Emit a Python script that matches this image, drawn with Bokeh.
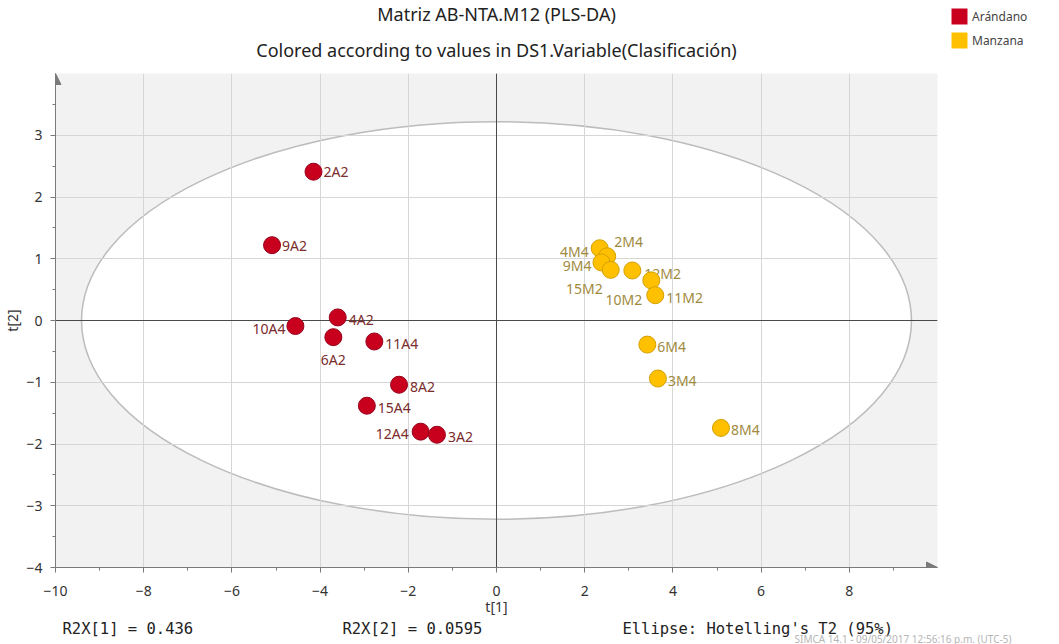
import numpy as np
from bokeh.plotting import figure
from bokeh.layouts import row
from bokeh.models import (ColumnDataSource, Range1d, FixedTicker, Span, Arrow, NormalHead,
                          Title, Legend, LegendItem)
from bokeh.embed import file_html
from bokeh.resources import INLINE
from bokeh.core.properties import value

# ---------------- data ----------------
title_1 = "Matriz AB-NTA.M12 (PLS-DA)"
title_2 = "Colored according to values in DS1.Variable(Clasificación)"
classes = ["Arándano", "Manzana"]

a_names = ["2A2", "9A2", "10A4", "4A2", "6A2", "11A4", "8A2", "15A4", "12A4", "3A2"]
a_t1 = [-4.15, -5.09, -4.56, -3.60, -3.70, -2.77, -2.21, -2.94, -1.72, -1.35]
a_t2 = [2.41, 1.22, -0.09, 0.05, -0.27, -0.34, -1.04, -1.38, -1.80, -1.85]

m_names = ["4M4", "2M4", "9M4", "15M2", "12M2", "10M2", "11M2", "6M4", "3M4", "8M4"]
m_t1 = [2.34, 2.51, 2.38, 2.59, 3.08, 3.51, 3.60, 3.42, 3.66, 5.09]
m_t2 = [1.17, 1.04, 0.94, 0.82, 0.81, 0.65, 0.41, -0.39, -0.94, -1.74]

x_ticks = [-10, -8, -6, -4, -2, 0, 2, 4, 6, 8]
x_minor = [-9, -7, -5, -3, -1, 1, 3, 5, 7, 9]
y_ticks = [-4, -3, -2, -1, 0, 1, 2, 3]
y_minor = [-3.5, -2.5, -1.5, -0.5, 0.5, 1.5, 2.5, 3.5]

r2x = [0.436, 0.0595]
t2_semi_axes = [9.41, 3.22]   # Hotelling's T2 (95%) ellipse
ellipse_note = "Ellipse: Hotelling's T2 (95%)"
watermark = "SIMCA 14.1 - 09/05/2017 12:56:16 p.m. (UTC-5)"

# ---------------- label placement (screen px) ----------------
a_dx = [10, 10, -10, 11, 0, 11, 11, 11, -12, 11]
a_dy = [0, 0, 2, 2, 22, 2, 2, 2, 2, 2]
a_al = ["left", "left", "right", "left", "center", "left", "left", "left", "right", "left"]
m_dx = [-11, 7, -10, -8, 12, -9, 11, 10, 10, 10]
m_dy = [3, -15, 3, 19, 3, 19, 2, 2, 2, 2]
m_al = ["right", "left", "right", "right", "left", "right", "left", "left", "left", "left"]

RED, RED_LINE, RED_TXT = "#C8001E", "#96001A", "#7A2C2C"
YEL, YEL_LINE, YEL_TXT = "#FFC000", "#D2A000", "#A08A40"
FONT = "Noto Sans"
NB = "\u00a0"

src_a = ColumnDataSource(dict(x=a_t1, y=a_t2, name=a_names, dx=a_dx, dy=a_dy, al=a_al))
src_m = ColumnDataSource(dict(x=m_t1, y=m_t2, name=m_names, dx=m_dx, dy=m_dy, al=m_al))

p = figure(width=1059, height=644, x_range=Range1d(-10, 10), y_range=Range1d(-4, 4),
           output_backend="svg", toolbar_location=None, title=None,
           min_border_left=51, min_border_right=122, min_border_top=70, min_border_bottom=77,
           background_fill_color="#f2f2f2", border_fill_color="white", outline_line_color=None)

# grid
p.xgrid.ticker = FixedTicker(ticks=x_ticks)
p.ygrid.ticker = FixedTicker(ticks=y_ticks)
for g in (p.xgrid, p.ygrid):
    g.grid_line_color = "#d6d6d6"
    g.grid_line_width = 1

# axes
p.xaxis.ticker = FixedTicker(ticks=x_ticks, minor_ticks=x_minor)
p.yaxis.ticker = FixedTicker(ticks=y_ticks, minor_ticks=y_minor)
for ax in (p.xaxis, p.yaxis):
    ax.axis_line_color = "#7a7a7a"
    ax.major_tick_line_color = "#7a7a7a"
    ax.minor_tick_line_color = "#7a7a7a"
    ax.major_tick_out = 5
    ax.major_tick_in = 0
    ax.minor_tick_out = 3
    ax.minor_tick_in = 0
    ax.major_label_text_font = FONT
    ax.major_label_text_font_size = "14px"
    ax.major_label_text_color = "#333333"
    ax.axis_label_text_font = FONT
    ax.axis_label_text_font_size = "14px"
    ax.axis_label_text_font_style = "normal"
    ax.axis_label_text_color = "#333333"
p.xaxis.axis_label_standoff = -2
p.yaxis.axis_label_standoff = 1
p.xaxis.major_label_standoff = 13
p.yaxis.major_label_standoff = 8
p.xaxis.axis_label = "t[1]"
p.yaxis.axis_label = "t[2]"

# T2 ellipse (below grid)
p.ellipse(x=[0], y=[0], width=[2 * t2_semi_axes[0]], height=[2 * t2_semi_axes[1]],
          fill_color="white", line_color="#bcbcbc", line_width=1.5, level="image")

# zero lines
p.add_layout(Span(location=0, dimension="width", line_color="#4a4a4a", line_width=1, level="underlay"))
p.add_layout(Span(location=0, dimension="height", line_color="#4a4a4a", line_width=1, level="underlay"))

# axis arrows
p.add_layout(Arrow(end=NormalHead(size=11, fill_color="#7a7a7a", line_color="#7a7a7a"),
                   x_start=-10, y_start=-4, x_end=10, y_end=-4, line_color="#7a7a7a", line_width=1))
p.add_layout(Arrow(end=NormalHead(size=11, fill_color="#7a7a7a", line_color="#7a7a7a"),
                   x_start=-10, y_start=-4, x_end=-10, y_end=4, line_color="#7a7a7a", line_width=1))

# point labels then points
p.text(x="x", y="y", text="name", x_offset="dx", y_offset="dy", text_align="al", source=src_a,
       text_baseline="middle", text_font=value(FONT), text_font_size="14px", text_color=RED_TXT)
p.text(x="x", y="y", text="name", x_offset="dx", y_offset="dy", text_align="al", source=src_m,
       text_baseline="middle", text_font=value(FONT), text_font_size="14px", text_color=YEL_TXT)
p.scatter(x="x", y="y", source=src_a, size=17, fill_color=RED, line_color=RED_LINE, line_width=1)
p.scatter(x="x", y="y", source=src_m, size=17, fill_color=YEL, line_color=YEL_LINE, line_width=1)

# titles (added inner first)
p.add_layout(Title(text=title_2, align="center", text_font=FONT, text_font_size="18px",
                   text_font_style="normal", text_color="#222222", standoff=23), "above")
p.add_layout(Title(text=title_1, align="center", text_font=FONT, text_font_size="18px",
                   text_font_style="normal", text_color="#222222", standoff=-2), "above")

# footer
f1 = "R2X[1] = %s" % r2x[0]
f2 = "R2X[2] = %s" % r2x[1]
footer = f1 + NB * (30 - len(f1)) + f2 + NB * (30 - len(f2)) + ellipse_note
p.add_layout(Title(text=footer, align="left", offset=7, text_font="DejaVu Sans Mono",
                   text_font_size="15.5px", text_font_style="normal", text_color="#222222",
                   standoff=-1), "below")
p.add_layout(Title(text=watermark, align="left", offset=739, text_font=FONT, text_font_size="10px",
                   text_font_style="normal", text_color="#b5b5b5", standoff=-17), "below")

# legend: a small overlay figure at the top-right corner
leg = figure(width=110, height=46, x_range=Range1d(0, 1), y_range=Range1d(0, 1),
             output_backend="svg", toolbar_location=None, title=None, min_border=0,
             outline_line_color=None, background_fill_alpha=0, border_fill_alpha=0)
leg.xaxis.visible = False
leg.yaxis.visible = False
leg.xgrid.visible = False
leg.ygrid.visible = False
sw_a = leg.quad(left=[np.nan], right=[np.nan], top=[np.nan], bottom=[np.nan], fill_color=RED, line_color=None)
sw_m = leg.quad(left=[np.nan], right=[np.nan], top=[np.nan], bottom=[np.nan], fill_color=YEL, line_color=None)
legend = Legend(items=[LegendItem(label=classes[0], renderers=[sw_a]),
                       LegendItem(label=classes[1], renderers=[sw_m])],
                location="top_left", orientation="vertical",
                glyph_width=20, glyph_height=20, spacing=4, padding=0, margin=0,
                label_standoff=3, label_height=20,
                label_text_font=FONT, label_text_font_size="12px", label_text_color="#444444",
                border_line_color=None, background_fill_alpha=0)
leg.add_layout(legend)
leg.margin = (6, 0, 0, -110)

layout = row(p, leg)
layout.margin = 0
p.margin = 0

open("out.html", "w").write(file_html(layout, INLINE))
